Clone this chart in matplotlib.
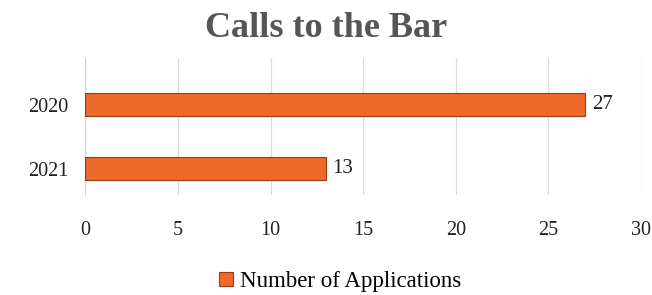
import matplotlib.pyplot as plt

years = ['2021', '2020']
applications = [13, 27]
xticks = [0, 5, 10, 15, 20, 25, 30]

serif = ['Liberation Serif', 'DejaVu Serif']
plt.rcParams['font.family'] = serif

fig = plt.figure(figsize=(6.52, 2.95), dpi=100)
ax = fig.add_axes([0.131, 0.339, 0.852, 0.464])

pos = range(len(years))
bars = ax.barh(pos, applications, height=0.36, color='#ED6A2A',
               edgecolor='#9A3B12', linewidth=0.8, label='Number of Applications', zorder=3)
for p, v in zip(pos, applications):
    ax.text(v + 0.35, p, str(v), va='center', ha='left', fontsize=15, color='#222222', family=serif)

ax.set_xlim(0, 30)
ax.set_ylim(-0.41, 1.73)
ax.set_xticks(xticks)
ax.set_yticks(list(pos))
ax.set_yticklabels(years)
ax.tick_params(axis='x', length=0, pad=19, labelsize=14.5, colors='#222222')
ax.tick_params(axis='y', length=0, pad=12, labelsize=14.5, colors='#222222')
ax.grid(axis='x', color='#dadada', linewidth=0.9, zorder=0)
for s in ['top', 'right', 'bottom']:
    ax.spines[s].set_visible(False)
ax.spines['left'].set_color('#d5d5d5')

fig.suptitle('Calls to the Bar', x=0.50, y=0.96, fontsize=26, fontweight='bold',
             color='#555555', family=serif)
fig.legend(handles=[bars], loc='center', bbox_to_anchor=(0.522, 0.045), frameon=False,
           prop={'family': serif, 'size': 16.5},
           handlelength=0.6, handleheight=0.6, handletextpad=0.3)

fig.savefig('out.png', dpi=100)
